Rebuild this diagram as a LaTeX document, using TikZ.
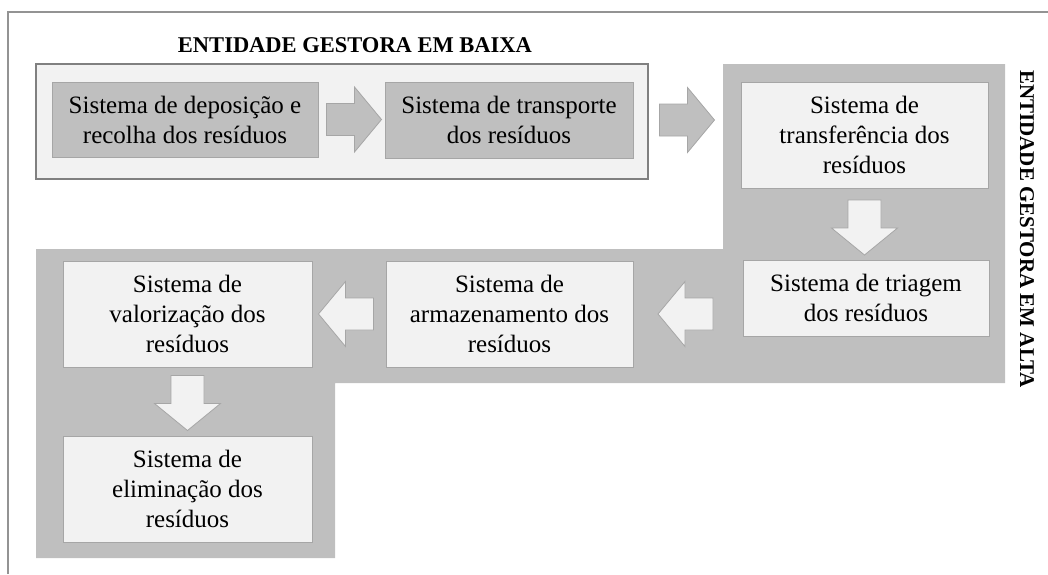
\documentclass[tikz,border=0pt]{standalone}
\usepackage{fontspec}
\setmainfont{Liberation Serif}
\usetikzlibrary{calc}
\definecolor{darkfill}{HTML}{BFBFBF}
\definecolor{lightfill}{HTML}{F2F2F2}
\definecolor{boxline}{HTML}{A6A6A6}
\definecolor{frameline}{HTML}{808080}
\tikzset{
  boxtext/.style={font=\fontsize{25}{30}\selectfont, align=center, inner sep=0pt, line width=0.9pt, draw=boxline},
  darkbox/.style={boxtext, fill=darkfill},
  lightbox/.style={boxtext, fill=lightfill},
  darkarrow/.style={fill=darkfill, draw=boxline, line width=0.8pt},
  lightarrow/.style={fill=lightfill, draw=boxline, line width=0.8pt},
  headline/.style={font=\bfseries\fontsize{21}{24}\selectfont, inner sep=0pt},
  rarrow/.pic={\path[pic actions] (-27.5,-16)--(0.5,-16)--(0.5,-32.5)--(27.5,0)--(0.5,32.5)--(0.5,16)--(-27.5,16)--cycle;},
  larrow/.pic={\path[pic actions] (27.5,-16)--(-0.5,-16)--(-0.5,-32.5)--(-27.5,0)--(-0.5,32.5)--(-0.5,16)--(27.5,16)--cycle;},
  darrow/.pic={\path[pic actions] (-16.5,-27.5)--(16.5,-27.5)--(16.5,0.5)--(33,0.5)--(0,27.5)--(-33,0.5)--(-16.5,0.5)--cycle;}
}
\begin{document}
\begin{tikzpicture}[x=1pt,y=-1pt]
\useasboundingbox (0,0) rectangle (1048,574);
% outer frame
\draw[frameline!85, line width=1.3pt] (8,574) -- (8,12) -- (1048,12);
% regions
\draw[fill=lightfill, draw=frameline, line width=1.2pt] (36,64) rectangle (648,179);
\fill[darkfill] (723,64) -- (1005,64) -- (1005,383) -- (335,383) -- (335,558) -- (36,558) -- (36,249) -- (723,249) -- cycle;
% titles
\node[headline, font=\bfseries\fontsize{22.5}{26}\selectfont] (tbaixa) at (355,45) {ENTIDADE GESTORA EM BAIXA};
\node[headline, rotate=-90] (talta) at (1027,229) {ENTIDADE GESTORA EM ALTA};
% boxes
\node[darkbox, minimum width=266, minimum height=75] (b1) at (185,119.5) {Sistema de deposição e\\recolha dos resíduos};
\node[darkbox, minimum width=248, minimum height=76] (b2) at (509,120) {Sistema de transporte\\dos resíduos};
\node[lightbox, minimum width=247, minimum height=106] (b3) at (864.5,135) {Sistema de\\transferência dos\\resíduos};
\node[lightbox, minimum width=246, minimum height=76] (b4) at (866,298) {Sistema de triagem\\dos resíduos};
\node[lightbox, minimum width=247, minimum height=106] (b5) at (509.5,314) {Sistema de\\armazenamento dos\\resíduos};
\node[lightbox, minimum width=249, minimum height=106] (b6) at (187.5,314) {Sistema de\\valorização dos\\resíduos};
\node[lightbox, minimum width=249, minimum height=106] (b7) at (187.5,489) {Sistema de\\eliminação dos\\resíduos};
% block arrows between boxes
\coordinate (m1) at ($(b1.east)!0.5!(b2.west)+(2.5,0)$);
\coordinate (m2) at ($(b2.east)!0.5!(b3.west)$);
\coordinate (m3) at ($(b3.south)!0.5!(b4.north)+(-1,3.5)$);
\coordinate (m4) at ($(b4.west)!0.5!(b5.east)+(-2.5,0)$);
\coordinate (m5) at ($(b5.west)!0.5!(b6.east)+(-3,0)$);
\coordinate (m6) at ($(b6.south)!0.5!(b7.north)+(0,1.5)$);
\pic[darkarrow] at (m1 |- b1) {rarrow};
\pic[darkarrow] at (m2 |- b2) {rarrow};
\pic[lightarrow] at (b3 |- m3) {darrow};
\pic[lightarrow] at (m4 |- b5) {larrow};
\pic[lightarrow] at (m5 |- b5) {larrow};
\pic[lightarrow] at (b6 |- m6) {darrow};
\end{tikzpicture}
\end{document}
